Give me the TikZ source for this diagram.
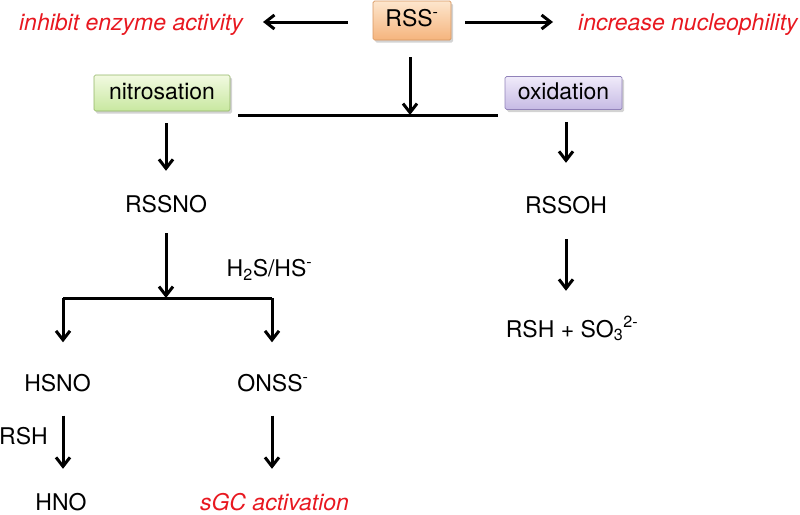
\documentclass[tikz,border=0pt]{standalone}
\usepackage{fontspec}
\setmainfont{TeX Gyre Heros}
\usetikzlibrary{arrows.meta,shadows}

\definecolor{effectred}{RGB}{232,24,32}
\definecolor{rsstop}{RGB}{253,230,205}
\definecolor{rssbot}{RGB}{245,180,125}
\definecolor{rssline}{RGB}{215,150,95}
\definecolor{nitrotop}{RGB}{242,250,225}
\definecolor{nitrobot}{RGB}{200,232,160}
\definecolor{nitroline}{RGB}{145,180,100}
\definecolor{oxidtop}{RGB}{240,235,250}
\definecolor{oxidbot}{RGB}{198,186,228}
\definecolor{oxidline}{RGB}{145,130,185}
\tikzset{
  arr/.style={-{Straight Barb[length=9pt,width=14pt,line width=3pt]}, line width=3pt},
  junc/.style={line width=3pt},
  chem/.style={inner sep=0pt, text height=17pt, text depth=0pt},
  effect/.style={inner sep=0pt, text height=17pt, text depth=0pt, text=effectred,
    font=\fontsize{23}{26}\selectfont\itshape},
  procbox/.style n args={3}{draw=#1, line width=0.7pt, top color=#2, bottom color=#3,
    rounded corners=1.5pt, inner sep=0pt, text height=17pt, text depth=5pt,
    drop shadow={shadow xshift=2pt, shadow yshift=-2.5pt, opacity=0.35, fill=gray}}
}

\begin{document}
\begin{tikzpicture}[x=1pt, y=-1pt, font=\fontsize{23}{26}\selectfont]
    \useasboundingbox (0,0) rectangle (800,514);

    % Top: RSS- and its effects
    \node[procbox={rssline}{rsstop}{rssbot}, minimum width=78pt, minimum height=39pt] (rss) at (412,20.5) {RSS\textsuperscript{-}};
    \node[effect, anchor=east] (inhibit) at (243,22) {inhibit enzyme activity};
    \node[effect, anchor=west] (nucleo) at (578,22) {increase nucleophility};
    \draw[arr, shorten <=25pt, shorten >=20pt] (rss.west |- inhibit) -- (inhibit.east);
    \draw[arr, shorten <=14pt, shorten >=25pt] (rss.east |- nucleo) -- (nucleo.west);

    % Branch into nitrosation / oxidation
    \node[procbox={nitroline}{nitrotop}{nitrobot}, minimum width=136pt, minimum height=36pt] (nitro) at (162,93) {nitrosation};
    \node[procbox={oxidline}{oxidtop}{oxidbot}, minimum width=117pt, minimum height=33pt] (oxid) at (563.5,93) {oxidation};
    \coordinate (topl) at (238,115);
    \coordinate (topr) at (498,115);
    \coordinate (topj) at (410,115);
    \draw[junc] (topl) -- (topr);
    \draw[arr, shorten <=17pt] (rss.south -| topj) -- (topj);

    % Nitrosation path
    \node[chem] (rssno) at (166,203.5) {RSSNO};
    \draw[arr, shorten <=12pt, shorten >=24pt] (nitro.south -| rssno) -- (rssno.north);
    \coordinate (lowj) at (166,298);
    \coordinate (lowl) at (63,298);
    \coordinate (lowr) at (272,298);
    \draw[arr, shorten <=21pt] (rssno.south) -- (lowj);
    \draw[junc] (lowl) -- (lowr);
    \node[chem] (h2s) at (269.5,268) {H\textsubscript{2}S/HS\textsuperscript{-}};

    \node[chem] (hsno) at (57.5,383) {HSNO};
    \node[chem] (onss) at (273,383) {ONSS\textsuperscript{-}};
    \draw[arr, shorten >=32pt] (lowl) -- (lowl |- hsno.north);
    \draw[arr, shorten >=32pt] (lowr) -- (lowr |- onss.north);

    \node[chem] (hno) at (61,501.5) {HNO};
    \node[effect] (sgc) at (274.5,501.5) {sGC activation};
    \node[chem] (rsh) at (23.5,435.5) {RSH};
    \draw[arr, shorten <=24pt, shorten >=24pt] (hsno.south -| lowl) -- (lowl |- hno.north);
    \draw[arr, shorten <=24pt, shorten >=24pt] (onss.south -| lowr) -- (lowr |- sgc.north);

    % Oxidation path
    \node[chem] (rssoh) at (566,204.5) {RSSOH};
    \node[chem] (rshso) at (572,328.5) {RSH + SO\textsubscript{3}\textsuperscript{2-}};
    \draw[arr, shorten <=12pt, shorten >=33pt] (oxid.south -| rssoh) -- (rssoh.north);
    \draw[arr, shorten <=26pt, shorten >=29pt] (rssoh.south) -- (rssoh.south |- rshso.north);
\end{tikzpicture}
\end{document}
